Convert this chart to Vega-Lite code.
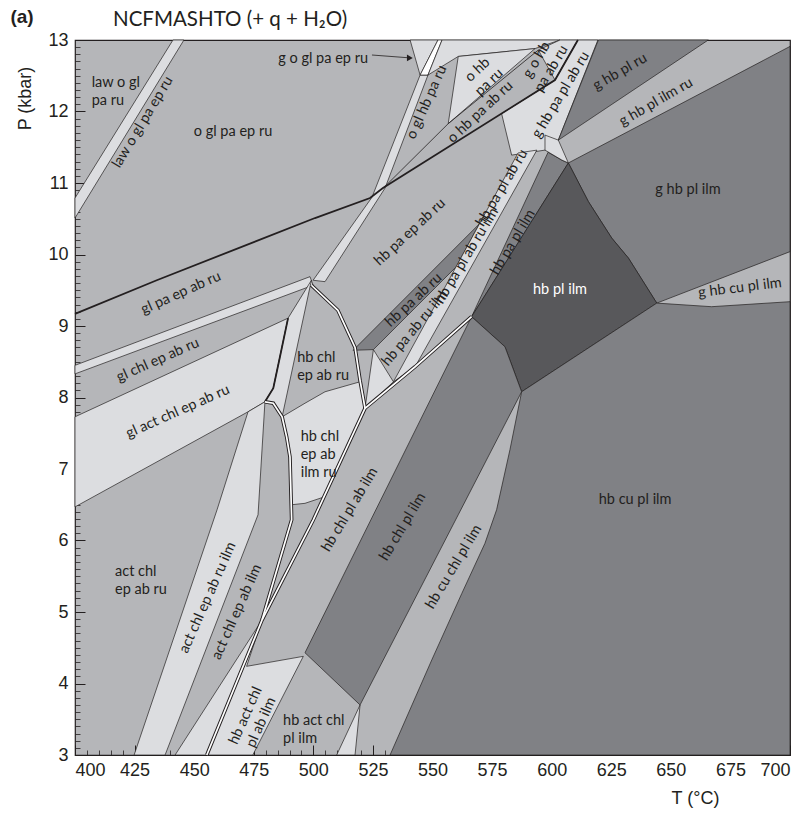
{
"$schema": "https://vega.github.io/schema/vega-lite/v6.json",
"width": 715, "height": 715,
"autosize": "none",
"padding": {"left": 75, "top": 40, "right": 21, "bottom": 62},
"background": "white",
"config": {"view": {"stroke": "#231f20", "strokeWidth": 1.2, "fill": "#b5b6b9"}, "axis": {"grid": false, "domain": false}},
"title": {"text": "NCFMASHTO (+ q + H₂O)", "anchor": "start", "frame": "group", "dx": 38, "dy": 21, "offset": -17, "font": "Lato", "fontSize": 20.5, "fontWeight": "normal", "color": "#231f20", "baseline": "alphabetic"},
"datasets": {
"fields": [
{"f":"law o gl pa ep ru","v":4,"i":0,"T":441.1,"P":13},{"f":"law o gl pa ep ru","v":4,"i":1,"T":445.7,"P":13},{"f":"law o gl pa ep ru","v":4,"i":2,"T":400,"P":10.51},{"f":"law o gl pa ep ru","v":4,"i":3,"T":400,"P":10.79},
{"f":"g o gl pa ep ru","v":4,"i":0,"T":540.6,"P":13},{"f":"g o gl pa ep ru","v":4,"i":1,"T":552.3,"P":13},{"f":"g o gl pa ep ru","v":4,"i":2,"T":544.8,"P":12.51},
{"f":"band S","v":4,"i":0,"T":499.9,"P":9.64},{"f":"band S","v":4,"i":1,"T":524.6,"P":10.80},{"f":"band S","v":4,"i":2,"T":544.8,"P":12.51},{"f":"band S","v":4,"i":3,"T":548.1,"P":12.51},{"f":"band S","v":4,"i":4,"T":530.1,"P":10.93},{"f":"band S","v":4,"i":5,"T":504.9,"P":9.62},
{"f":"sliver top","v":3,"i":0,"T":544.8,"P":12.51},{"f":"sliver top","v":3,"i":1,"T":552.3,"P":13},{"f":"sliver top","v":3,"i":2,"T":554.0,"P":13},{"f":"sliver top","v":3,"i":3,"T":548.1,"P":12.51},
{"f":"top A","v":4,"i":0,"T":548.1,"P":12.51},{"f":"top A","v":4,"i":1,"T":554.0,"P":13},{"f":"top A","v":4,"i":2,"T":603.5,"P":13},{"f":"top A","v":4,"i":3,"T":593.0,"P":12.88},{"f":"top A","v":4,"i":4,"T":560.8,"P":12.77},
{"f":"o hb pa ru","v":4,"i":0,"T":560.8,"P":12.77},{"f":"o hb pa ru","v":4,"i":1,"T":593.0,"P":12.88},{"f":"o hb pa ru","v":4,"i":2,"T":556.6,"P":11.83},
{"f":"g o hb pa ab ru","v":4,"i":0,"T":594.4,"P":12.86},{"f":"g o hb pa ab ru","v":4,"i":1,"T":603.5,"P":13},{"f":"g o hb pa ab ru","v":4,"i":2,"T":611.0,"P":13},{"f":"g o hb pa ab ru","v":4,"i":3,"T":601.4,"P":12.44},
{"f":"g hb pa pl ab ru","v":4,"i":0,"T":601.4,"P":12.44},{"f":"g hb pa pl ab ru","v":4,"i":1,"T":611.0,"P":13},{"f":"g hb pa pl ab ru","v":4,"i":2,"T":619.4,"P":13},{"f":"g hb pa pl ab ru","v":4,"i":3,"T":602.8,"P":11.60},{"f":"g hb pa pl ab ru","v":4,"i":4,"T":597.2,"P":11.46},{"f":"g hb pa pl ab ru","v":4,"i":5,"T":583.2,"P":11.39},{"f":"g hb pa pl ab ru","v":4,"i":6,"T":579.0,"P":11.97},
{"f":"band T","v":4,"i":0,"T":400,"P":8.45},{"f":"band T","v":4,"i":1,"T":498.6,"P":9.69},{"f":"band T","v":4,"i":2,"T":499.9,"P":9.57},{"f":"band T","v":4,"i":3,"T":400,"P":8.33},
{"f":"gl act chl ep ab ru","v":4,"i":0,"T":400,"P":7.73},{"f":"gl act chl ep ab ru","v":4,"i":1,"T":489.4,"P":9.11},{"f":"gl act chl ep ab ru","v":4,"i":2,"T":486.0,"P":8.57},{"f":"gl act chl ep ab ru","v":4,"i":3,"T":483.2,"P":8.13},{"f":"gl act chl ep ab ru","v":4,"i":4,"T":479.7,"P":7.94},{"f":"gl act chl ep ab ru","v":4,"i":5,"T":472.6,"P":7.80},{"f":"gl act chl ep ab ru","v":4,"i":6,"T":400,"P":6.47},
{"f":"sliver chl","v":4,"i":0,"T":489.4,"P":9.11},{"f":"sliver chl","v":4,"i":1,"T":499.2,"P":9.64},{"f":"sliver chl","v":4,"i":2,"T":486.9,"P":7.73},{"f":"sliver chl","v":4,"i":3,"T":483.2,"P":7.92},{"f":"sliver chl","v":4,"i":4,"T":479.7,"P":7.94},{"f":"sliver chl","v":4,"i":5,"T":483.2,"P":8.13},{"f":"sliver chl","v":4,"i":6,"T":486.0,"P":8.57},
{"f":"act chl ep ab ru ilm","v":4,"i":0,"T":472.6,"P":7.80},{"f":"act chl ep ab ru ilm","v":4,"i":1,"T":479.7,"P":7.94},{"f":"act chl ep ab ru ilm","v":4,"i":2,"T":476.8,"P":6.36},{"f":"act chl ep ab ru ilm","v":4,"i":3,"T":437.8,"P":3},{"f":"act chl ep ab ru ilm","v":4,"i":4,"T":424.8,"P":3},{"f":"act chl ep ab ru ilm","v":4,"i":5,"T":459.6,"P":6.43},
{"f":"hb chl ep ab ilm ru","v":4,"i":0,"T":486.9,"P":7.73},{"f":"hb chl ep ab ilm ru","v":4,"i":1,"T":496.5,"P":7.92},{"f":"hb chl ep ab ilm ru","v":4,"i":2,"T":504.9,"P":8.08},{"f":"hb chl ep ab ilm ru","v":4,"i":3,"T":519.6,"P":8.22},{"f":"hb chl ep ab ilm ru","v":4,"i":4,"T":521.7,"P":7.85},{"f":"hb chl ep ab ilm ru","v":4,"i":5,"T":504.6,"P":6.61},{"f":"hb chl ep ab ilm ru","v":4,"i":6,"T":496.5,"P":6.52},{"f":"hb chl ep ab ilm ru","v":4,"i":7,"T":490.8,"P":6.50},{"f":"hb chl ep ab ilm ru","v":4,"i":8,"T":490.2,"P":7.17},{"f":"hb chl ep ab ilm ru","v":4,"i":9,"T":488.8,"P":7.45},
{"f":"hb act chl pl ab ilm","v":4,"i":0,"T":442.0,"P":3},{"f":"hb act chl pl ab ilm","v":4,"i":1,"T":474.6,"P":3},{"f":"hb act chl pl ab ilm","v":4,"i":2,"T":495.8,"P":4.38},{"f":"hb act chl pl ab ilm","v":4,"i":3,"T":472.0,"P":4.24},{"f":"hb act chl pl ab ilm","v":4,"i":4,"T":478.5,"P":4.89},
{"f":"tri low","v":4,"i":0,"T":509.8,"P":3},{"f":"tri low","v":4,"i":1,"T":517.5,"P":3},{"f":"tri low","v":4,"i":2,"T":519.6,"P":3.70},
{"f":"hb pa ab ru","v":6,"i":0,"T":516.7,"P":8.66},{"f":"hb pa ab ru","v":6,"i":1,"T":569.7,"P":10.43},{"f":"hb pa ab ru","v":6,"i":2,"T":560.0,"P":9.83},{"f":"hb pa ab ru","v":6,"i":3,"T":525.2,"P":8.67},
{"f":"tri mid","v":4,"i":0,"T":525.2,"P":8.67},{"f":"tri mid","v":4,"i":1,"T":533.6,"P":8.22},{"f":"tri mid","v":4,"i":2,"T":521.7,"P":7.85},
{"f":"hb pa pl ab ru ilm","v":4,"i":0,"T":533.6,"P":8.22},{"f":"hb pa pl ab ru ilm","v":4,"i":1,"T":585.9,"P":11.42},{"f":"hb pa pl ab ru ilm","v":4,"i":2,"T":593.8,"P":11.46},{"f":"hb pa pl ab ru ilm","v":4,"i":3,"T":542.7,"P":8.43},
{"f":"hb pa pl ilm","v":6,"i":0,"T":566.4,"P":9.13},{"f":"hb pa pl ilm","v":6,"i":1,"T":598.5,"P":11.43},{"f":"hb pa pl ilm","v":6,"i":2,"T":604.3,"P":11.32},{"f":"hb pa pl ilm","v":6,"i":3,"T":607.0,"P":11.28},
{"f":"quad top","v":4,"i":0,"T":597.2,"P":11.67},{"f":"quad top","v":4,"i":1,"T":602.8,"P":11.60},{"f":"quad top","v":4,"i":2,"T":607.0,"P":11.28},{"f":"quad top","v":4,"i":3,"T":604.3,"P":11.32},{"f":"quad top","v":4,"i":4,"T":597.2,"P":11.46},
{"f":"g hb pl ru","v":6,"i":0,"T":619.6,"P":13},{"f":"g hb pl ru","v":6,"i":1,"T":665.7,"P":13},{"f":"g hb pl ru","v":6,"i":2,"T":602.8,"P":11.60},
{"f":"g hb pl ilm","v":6,"i":0,"T":607.0,"P":11.28},{"f":"g hb pl ilm","v":6,"i":1,"T":700,"P":12.91},{"f":"g hb pl ilm","v":6,"i":2,"T":700,"P":10.04},{"f":"g hb pl ilm","v":6,"i":3,"T":644.1,"P":9.32},{"f":"g hb pl ilm","v":6,"i":4,"T":632.2,"P":9.95},{"f":"g hb pl ilm","v":6,"i":5,"T":625.2,"P":10.23},{"f":"g hb pl ilm","v":6,"i":6,"T":615.4,"P":10.74},
{"f":"hb pl ilm","v":7,"i":0,"T":607.0,"P":11.28},{"f":"hb pl ilm","v":7,"i":1,"T":615.4,"P":10.74},{"f":"hb pl ilm","v":7,"i":2,"T":625.2,"P":10.23},{"f":"hb pl ilm","v":7,"i":3,"T":632.2,"P":9.95},{"f":"hb pl ilm","v":7,"i":4,"T":644.1,"P":9.32},{"f":"hb pl ilm","v":7,"i":5,"T":587.4,"P":8.08},{"f":"hb pl ilm","v":7,"i":6,"T":580.4,"P":8.71},{"f":"hb pl ilm","v":7,"i":7,"T":566.4,"P":9.13},
{"f":"hb chl pl ilm","v":6,"i":0,"T":566.4,"P":9.13},{"f":"hb chl pl ilm","v":6,"i":1,"T":580.4,"P":8.71},{"f":"hb chl pl ilm","v":6,"i":2,"T":587.4,"P":8.08},{"f":"hb chl pl ilm","v":6,"i":3,"T":560.8,"P":6.36},{"f":"hb chl pl ilm","v":6,"i":4,"T":519.6,"P":3.70},{"f":"hb chl pl ilm","v":6,"i":5,"T":496.5,"P":4.43},
{"f":"hb cu pl ilm","v":6,"i":0,"T":587.4,"P":8.08},{"f":"hb cu pl ilm","v":6,"i":1,"T":644.1,"P":9.32},{"f":"hb cu pl ilm","v":6,"i":2,"T":667.1,"P":9.27},{"f":"hb cu pl ilm","v":6,"i":3,"T":700,"P":9.34},{"f":"hb cu pl ilm","v":6,"i":4,"T":700,"P":3},{"f":"hb cu pl ilm","v":6,"i":5,"T":532.2,"P":3},{"f":"hb cu pl ilm","v":6,"i":6,"T":549.7,"P":4.33},{"f":"hb cu pl ilm","v":6,"i":7,"T":562.3,"P":5.26},{"f":"hb cu pl ilm","v":6,"i":8,"T":572.0,"P":5.96},{"f":"hb cu pl ilm","v":6,"i":9,"T":576.9,"P":6.43},{"f":"hb cu pl ilm","v":6,"i":10,"T":582.5,"P":7.27}
],
"lines": [
{"b":"L3","i":0,"T":400,"P":9.17},{"b":"L3","i":1,"T":434.3,"P":9.64},{"b":"L3","i":2,"T":500.7,"P":10.51},{"b":"L3","i":3,"T":523.8,"P":10.79},{"b":"L3","i":4,"T":529.2,"P":10.93},{"b":"L3","i":5,"T":601.4,"P":12.44},{"b":"L3","i":6,"T":611.0,"P":13},
{"b":"u1","i":0,"T":529.4,"P":10.93},{"b":"u1","i":1,"T":556.6,"P":11.83},{"b":"u1","i":2,"T":594.4,"P":12.86},
{"b":"act","i":0,"T":489.4,"P":9.11},{"b":"act","i":1,"T":486.0,"P":8.57},{"b":"act","i":2,"T":483.2,"P":8.13},{"b":"act","i":3,"T":479.7,"P":7.94},
{"b":"W1","i":0,"T":566.4,"P":9.13},{"b":"W1","i":1,"T":542.7,"P":8.43},{"b":"W1","i":2,"T":521.7,"P":7.85},{"b":"W1","i":3,"T":500.0,"P":6.29},{"b":"W1","i":4,"T":478.5,"P":4.89},{"b":"W1","i":5,"T":455.3,"P":3},
{"b":"W2","i":0,"T":479.7,"P":7.94},{"b":"W2","i":1,"T":483.2,"P":7.92},{"b":"W2","i":2,"T":486.9,"P":7.73},{"b":"W2","i":3,"T":488.8,"P":7.45},{"b":"W2","i":4,"T":490.2,"P":7.17},{"b":"W2","i":5,"T":490.9,"P":6.29},{"b":"W2","i":6,"T":478.5,"P":4.89},
{"b":"W3","i":0,"T":499.2,"P":9.57},{"b":"W3","i":1,"T":510.3,"P":9.22},{"b":"W3","i":2,"T":517.5,"P":8.70},{"b":"W3","i":3,"T":519.6,"P":8.24},{"b":"W3","i":4,"T":521.7,"P":7.85},
{"b":"arrow","i":0,"T":524.6,"P":12.79},{"b":"arrow","i":1,"T":540.5,"P":12.75}
],
"labels": [
{"t":"law o gl\npa ru","T":407.0,"P":12.40},{"t":"act chl\nep ab ru","T":416.8,"P":5.56},{"t":"hb chl\nep ab ru","T":493.2,"P":8.55},{"t":"hb chl\nep ab\nilm ru","T":494.7,"P":7.45},{"t":"hb act chl\npl ilm","T":487.3,"P":3.48},
{"t":"o gl pa ep ru","T":466.3,"P":11.71},{"t":"g o gl pa ep ru","T":504.1,"P":12.74},{"t":"g hb pl ilm","T":657.2,"P":10.90},{"t":"hb cu pl ilm","T":635.0,"P":6.57},
{"t":"hb pl ilm","T":603.5,"P":9.50},{"t":"(a)","T":377.8,"P":13.32},
{"t":"gl pa ep ab ru","T":444.5,"P":9.46},{"t":"gl chl ep ab ru","T":434.8,"P":8.52},{"t":"gl act chl ep ab ru","T":443.2,"P":7.80},
{"t":"g hb pl ru","T":628.7,"P":12.55},{"t":"g hb pl ilm ru","T":643.8,"P":12.13},{"t":"g hb cu pl ilm","T":679.0,"P":9.53},
{"t":"act chl ep ab ru ilm","T":455.8,"P":5.20},{"t":"act chl ep ab ilm","T":468.0,"P":5.00},{"t":"hb act chl\npl ab ilm","T":471.7,"P":3.55},{"t":"o gl hb pa ru","T":547.7,"P":12.13},
{"t":"hb pa ep ab ru","T":540.6,"P":10.31},{"t":"o hb\npa ru","T":569.0,"P":12.58},{"t":"o hb pa ab ru","T":570.1,"P":11.99},{"t":"hb pa ab ru","T":542.2,"P":9.36},
{"t":"hb pa ab ru ilm","T":542.7,"P":8.97},
{"t":"law o gl pa ep ru","T":428.5,"P":11.85},{"t":"hb pa pl ab ru ilm","T":564.5,"P":9.98},{"t":"hb pa pl ab ru","T":579.2,"P":10.93},{"t":"hb pa pl ilm","T":583.8,"P":10.17},{"t":"g hb pa pl ab ru","T":603.9,"P":12.23},{"t":"g o hb\npa ab ru","T":593.8,"P":12.72},{"t":"hb chl pl ilm","T":537.6,"P":6.19},{"t":"hb chl pl ab ilm","T":515.4,"P":6.43},{"t":"hb cu chl pl ilm","T":559.0,"P":5.63}
]
},
"resolve": {"axis": {"x": "independent", "y": "independent"}},
"layer": [
{"data": {"name": "fields"},
 "mark": {"type": "line", "interpolate": "linear-closed", "stroke": "#231f20", "strokeWidth": 0.7, "strokeJoin": "round"},
 "encoding": {
  "x": {"field": "T", "type": "quantitative", "scale": {"domain": [400, 700], "nice": false, "zero": false},
        "axis": {"orient": "bottom", "values": [400,425,450,475,500,525,550,575,600,625,650,675,700], "ticks": false, "labelPadding": 6, "labelFont": "Liberation Sans", "labelFontSize": 18, "labelColor": "#231f20", "title": "T (°C)", "titleFont": "Liberation Sans", "titleFontSize": 18, "titleFontWeight": "normal", "titleColor": "#231f20", "titleX": 620, "titleY": 43, "titleAlign": "center", "titleBaseline": "middle"}},
  "y": {"field": "P", "type": "quantitative", "scale": {"domain": [3, 13], "nice": false, "zero": false},
        "axis": {"orient": "left", "values": [3,4,5,6,7,8,9,10,11,12,13], "ticks": false, "labelPadding": 7, "labelFont": "Liberation Sans", "labelFontSize": 18, "labelColor": "#231f20", "title": "P (kbar)", "titleFont": "Liberation Sans", "titleFontSize": 18, "titleFontWeight": "normal", "titleColor": "#231f20", "titleX": -50, "titleY": 58, "titleAngle": -90, "titleAlign": "center", "titleBaseline": "middle"}},
  "order": {"field": "i", "type": "quantitative"},
  "detail": {"field": "f"},
  "fill": {"field": "v", "type": "ordinal", "scale": {"domain": [3,4,5,6,7], "range": ["#ffffff","#dcdde0","#b5b6b9","#808185","#58585b"]}, "legend": null}
 }},
{"data": {"name": "lines"},
 "transform": [{"filter": {"field": "b", "oneOf": ["u1","arrow"]}}],
 "mark": {"type": "line", "stroke": "#231f20", "strokeWidth": 0.8},
 "encoding": {
  "x": {"field": "T", "type": "quantitative", "scale": {"domain": [400, 700], "nice": false, "zero": false},
        "axis": {"orient": "bottom", "values": [400,425,450,475,500,525,550,575,600,625,650,675,700], "labels": false, "tickSize": -10, "tickColor": "#231f20", "tickWidth": 1, "title": null}},
  "y": {"field": "P", "type": "quantitative", "scale": {"domain": [3, 13], "nice": false, "zero": false},
        "axis": {"orient": "left", "values": [3,4,5,6,7,8,9,10,11,12,13], "labels": false, "tickSize": -10, "tickColor": "#231f20", "tickWidth": 1, "title": null}},
  "order": {"field": "i", "type": "quantitative"},
  "detail": {"field": "b"}
 }},
{"data": {"name": "lines"},
 "transform": [{"filter": {"field": "b", "oneOf": ["L3","act"]}}],
 "mark": {"type": "line", "stroke": "#231f20", "strokeWidth": 1.8},
 "encoding": {
  "x": {"field": "T", "type": "quantitative", "scale": {"domain": [400, 700], "nice": false, "zero": false},
        "axis": {"orient": "bottom", "values": [400,405,410,415,420,425,430,435,440,445,450,455,460,465,470,475,480,485,490,495,500,505,510,515,520,525,530,535,540,545,550,555,560,565,570,575,580,585,590,595,600,605,610,615,620,625,630,635,640,645,650,655,660,665,670,675,680,685,690,695,700], "labels": false, "tickSize": -5, "tickColor": "#231f20", "tickWidth": 0.8, "title": null}},
  "y": {"field": "P", "type": "quantitative", "scale": {"domain": [3, 13], "nice": false, "zero": false},
        "axis": {"orient": "left", "values": [3,3.1,3.2,3.3,3.4,3.5,3.6,3.7,3.8,3.9,4,4.1,4.2,4.3,4.4,4.5,4.6,4.7,4.8,4.9,5,5.1,5.2,5.3,5.4,5.5,5.6,5.7,5.8,5.9,6,6.1,6.2,6.3,6.4,6.5,6.6,6.7,6.8,6.9,7,7.1,7.2,7.3,7.4,7.5,7.6,7.7,7.8,7.9,8,8.1,8.2,8.3,8.4,8.5,8.6,8.7,8.8,8.9,9,9.1,9.2,9.3,9.4,9.5,9.6,9.7,9.8,9.9,10,10.1,10.2,10.3,10.4,10.5,10.6,10.7,10.8,10.9,11,11.1,11.2,11.3,11.4,11.5,11.6,11.7,11.8,11.9,12,12.1,12.2,12.3,12.4,12.5,12.6,12.7,12.8,12.9,13], "labels": false, "tickSize": -5, "tickColor": "#231f20", "tickWidth": 0.8, "title": null}},
  "order": {"field": "i", "type": "quantitative"},
  "detail": {"field": "b"}
 }},
{"data": {"name": "lines"},
 "transform": [{"filter": {"field": "b", "oneOf": ["W1","W2","W3"]}}],
 "mark": {"type": "line", "stroke": "#231f20", "strokeWidth": 3.6},
 "encoding": {
  "x": {"field": "T", "type": "quantitative", "scale": {"domain": [400, 700], "nice": false, "zero": false}, "axis": null},
  "y": {"field": "P", "type": "quantitative", "scale": {"domain": [3, 13], "nice": false, "zero": false}, "axis": null},
  "order": {"field": "i", "type": "quantitative"},
  "detail": {"field": "b"}
 }},
{"data": {"name": "lines"},
 "transform": [{"filter": {"field": "b", "oneOf": ["W1","W2","W3"]}}],
 "mark": {"type": "line", "stroke": "#ffffff", "strokeWidth": 1.7},
 "encoding": {
  "x": {"field": "T", "type": "quantitative", "scale": {"domain": [400, 700], "nice": false, "zero": false}, "axis": null},
  "y": {"field": "P", "type": "quantitative", "scale": {"domain": [3, 13], "nice": false, "zero": false}, "axis": null},
  "order": {"field": "i", "type": "quantitative"},
  "detail": {"field": "b"}
 }},
{"data": {"name": "lines"},
 "transform": [{"filter": "datum.b === 'arrow' && datum.i === 1"}],
 "mark": {"type": "point", "shape": "triangle-right", "filled": true, "color": "#231f20", "size": 45, "opacity": 1},
 "encoding": {
  "x": {"field": "T", "type": "quantitative", "scale": {"domain": [400, 700], "nice": false, "zero": false}, "axis": null},
  "y": {"field": "P", "type": "quantitative", "scale": {"domain": [3, 13], "nice": false, "zero": false}, "axis": null}
 }},
{"data": {"name": "labels"},
 "transform": [{"filter": {"field": "t", "oneOf": ["law o gl\npa ru","act chl\nep ab ru","hb chl\nep ab ru","hb chl\nep ab\nilm ru","hb act chl\npl ilm"]}}],
 "mark": {"type": "text", "font": "Lato", "fontSize": 14.5, "color": "#231f20", "align": "left", "baseline": "middle", "lineBreak": "\n", "lineHeight": 18},
 "encoding": {
  "x": {"field": "T", "type": "quantitative", "scale": {"domain": [400, 700], "nice": false, "zero": false}, "axis": null},
  "y": {"field": "P", "type": "quantitative", "scale": {"domain": [3, 13], "nice": false, "zero": false}, "axis": null},
  "text": {"field": "t"}
 }},
{"data": {"name": "labels"},
 "transform": [{"filter": {"field": "t", "oneOf": ["o gl pa ep ru","g o gl pa ep ru","g hb pl ilm","hb cu pl ilm"]}}],
 "mark": {"type": "text", "font": "Lato", "fontSize": 14.5, "color": "#231f20", "align": "center", "baseline": "middle"},
 "encoding": {
  "x": {"field": "T", "type": "quantitative", "scale": {"domain": [400, 700], "nice": false, "zero": false}, "axis": null},
  "y": {"field": "P", "type": "quantitative", "scale": {"domain": [3, 13], "nice": false, "zero": false}, "axis": null},
  "text": {"field": "t"}
 }},
{"data": {"name": "labels"},
 "transform": [{"filter": {"field": "t", "oneOf": ["hb pl ilm"]}}],
 "mark": {"type": "text", "font": "Lato", "fontSize": 14.5, "color": "#ffffff", "align": "center", "baseline": "middle"},
 "encoding": {
  "x": {"field": "T", "type": "quantitative", "scale": {"domain": [400, 700], "nice": false, "zero": false}, "axis": null},
  "y": {"field": "P", "type": "quantitative", "scale": {"domain": [3, 13], "nice": false, "zero": false}, "axis": null},
  "text": {"field": "t"}
 }},
{"data": {"name": "labels"},
 "transform": [{"filter": {"field": "t", "oneOf": ["(a)"]}}],
 "mark": {"type": "text", "font": "Liberation Sans", "fontSize": 19, "fontWeight": "bold", "color": "#231f20", "align": "center", "baseline": "middle"},
 "encoding": {
  "x": {"field": "T", "type": "quantitative", "scale": {"domain": [400, 700], "nice": false, "zero": false}, "axis": null},
  "y": {"field": "P", "type": "quantitative", "scale": {"domain": [3, 13], "nice": false, "zero": false}, "axis": null},
  "text": {"field": "t"}
 }},
{"data": {"name": "labels"},
 "transform": [{"filter": {"field": "t", "oneOf": ["gl pa ep ab ru","gl chl ep ab ru","gl act chl ep ab ru"]}}],
 "mark": {"type": "text", "font": "Lato", "fontSize": 14.5, "color": "#231f20", "align": "center", "baseline": "middle", "angle": -24},
 "encoding": {
  "x": {"field": "T", "type": "quantitative", "scale": {"domain": [400, 700], "nice": false, "zero": false}, "axis": null},
  "y": {"field": "P", "type": "quantitative", "scale": {"domain": [3, 13], "nice": false, "zero": false}, "axis": null},
  "text": {"field": "t"}
 }},
{"data": {"name": "labels"},
 "transform": [{"filter": {"field": "t", "oneOf": ["g hb pl ru","g hb pl ilm ru"]}}],
 "mark": {"type": "text", "font": "Lato", "fontSize": 14.5, "color": "#231f20", "align": "center", "baseline": "middle", "angle": -30},
 "encoding": {
  "x": {"field": "T", "type": "quantitative", "scale": {"domain": [400, 700], "nice": false, "zero": false}, "axis": null},
  "y": {"field": "P", "type": "quantitative", "scale": {"domain": [3, 13], "nice": false, "zero": false}, "axis": null},
  "text": {"field": "t"}
 }},
{"data": {"name": "labels"},
 "transform": [{"filter": {"field": "t", "oneOf": ["g hb cu pl ilm"]}}],
 "mark": {"type": "text", "font": "Lato", "fontSize": 14.5, "color": "#231f20", "align": "center", "baseline": "middle", "angle": -7},
 "encoding": {
  "x": {"field": "T", "type": "quantitative", "scale": {"domain": [400, 700], "nice": false, "zero": false}, "axis": null},
  "y": {"field": "P", "type": "quantitative", "scale": {"domain": [3, 13], "nice": false, "zero": false}, "axis": null},
  "text": {"field": "t"}
 }},
{"data": {"name": "labels"},
 "transform": [{"filter": {"field": "t", "oneOf": ["act chl ep ab ru ilm","act chl ep ab ilm","hb act chl\npl ab ilm","o gl hb pa ru"]}}],
 "mark": {"type": "text", "font": "Lato", "fontSize": 14.5, "color": "#231f20", "align": "center", "baseline": "middle", "angle": -66, "lineBreak": "\n", "lineHeight": 17},
 "encoding": {
  "x": {"field": "T", "type": "quantitative", "scale": {"domain": [400, 700], "nice": false, "zero": false}, "axis": null},
  "y": {"field": "P", "type": "quantitative", "scale": {"domain": [3, 13], "nice": false, "zero": false}, "axis": null},
  "text": {"field": "t"}
 }},
{"data": {"name": "labels"},
 "transform": [{"filter": {"field": "t", "oneOf": ["hb pa ep ab ru","o hb\npa ru","o hb pa ab ru","hb pa ab ru"]}}],
 "mark": {"type": "text", "font": "Lato", "fontSize": 14.5, "color": "#231f20", "align": "center", "baseline": "middle", "angle": -43, "lineBreak": "\n", "lineHeight": 17},
 "encoding": {
  "x": {"field": "T", "type": "quantitative", "scale": {"domain": [400, 700], "nice": false, "zero": false}, "axis": null},
  "y": {"field": "P", "type": "quantitative", "scale": {"domain": [3, 13], "nice": false, "zero": false}, "axis": null},
  "text": {"field": "t"}
 }},
{"data": {"name": "labels"},
 "transform": [{"filter": {"field": "t", "oneOf": ["hb pa ab ru ilm"]}}],
 "mark": {"type": "text", "font": "Lato", "fontSize": 14.5, "color": "#231f20", "align": "center", "baseline": "middle", "angle": -50},
 "encoding": {
  "x": {"field": "T", "type": "quantitative", "scale": {"domain": [400, 700], "nice": false, "zero": false}, "axis": null},
  "y": {"field": "P", "type": "quantitative", "scale": {"domain": [3, 13], "nice": false, "zero": false}, "axis": null},
  "text": {"field": "t"}
 }},
{"data": {"name": "labels"},
 "transform": [{"filter": {"field": "t", "oneOf": ["law o gl pa ep ru","hb pa pl ab ru ilm","hb pa pl ab ru","hb pa pl ilm","g hb pa pl ab ru","g o hb\npa ab ru","hb chl pl ilm","hb chl pl ab ilm","hb cu chl pl ilm"]}}],
 "mark": {"type": "text", "font": "Lato", "fontSize": 14.5, "color": "#231f20", "align": "center", "baseline": "middle", "angle": -59, "lineBreak": "\n", "lineHeight": 17},
 "encoding": {
  "x": {"field": "T", "type": "quantitative", "scale": {"domain": [400, 700], "nice": false, "zero": false}, "axis": null},
  "y": {"field": "P", "type": "quantitative", "scale": {"domain": [3, 13], "nice": false, "zero": false}, "axis": null},
  "text": {"field": "t"}
 }}
]
}
